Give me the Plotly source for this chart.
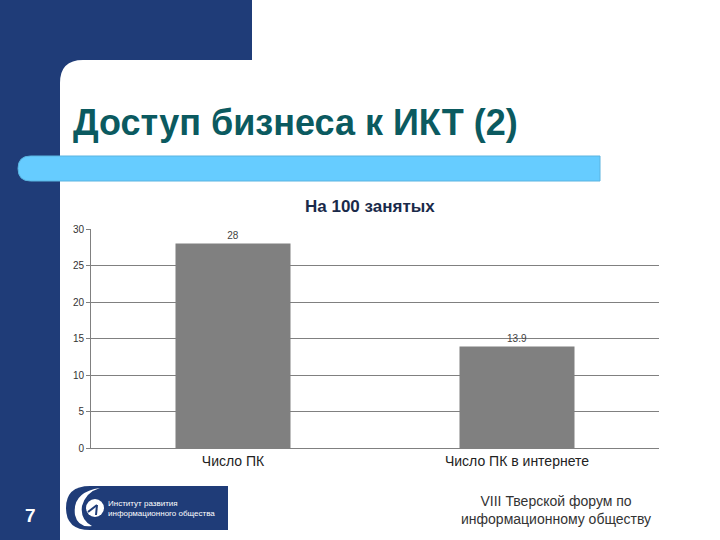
import plotly.graph_objects as go

categories = ["Число ПК", "Число ПК в интернете"]
values = [28, 13.9]
value_labels = ["28", "13.9"]
y_ticks = [0, 5, 10, 15, 20, 25, 30]

slide_title = "Доступ бизнеса к ИКТ (2)"
chart_title = "На 100 занятых"
footer_lines = ["VIII Тверской форум по", "информационному обществу"]
logo_lines = ["Институт развития", "информационного общества"]
page_number = "7"

W, H = 720, 540
L, R, T, B = 91, 659, 229, 448  # plot area in pixels


def px(x):
    return (x - L) / (R - L)


def py(y):
    return (B - y) / (B - T)


DARK = "#1F3C78"
LIGHT = "#66CCFF"
FONT = "Liberation Sans, Arial"

fig = go.Figure()
fig.add_trace(go.Bar(
    x=categories, y=values, width=0.405,
    marker=dict(color="#808080", line=dict(width=0)),
    text=value_labels, textposition="outside", cliponaxis=False,
    textfont=dict(family=FONT, size=10, color="#444444"),
))

shapes = []
# dark blue frame
shapes.append(dict(type="rect", xref="paper", yref="paper", x0=px(0), x1=px(252), y0=py(0), y1=py(60),
                   fillcolor=DARK, line=dict(width=0), layer="below"))
shapes.append(dict(type="rect", xref="paper", yref="paper", x0=px(0), x1=px(60), y0=py(0), y1=py(540),
                   fillcolor=DARK, line=dict(width=0), layer="below"))
# rounded corner
shapes.append(dict(type="path", xref="paper", yref="paper",
                   path=f"M {px(60)},{py(60)} L {px(83)},{py(60)} Q {px(60)},{py(60)} {px(60)},{py(83)} Z",
                   fillcolor=DARK, line=dict(width=0), layer="below"))
# light blue bar with rounded left end
r = 12.5
y0b, y1b = 156, 181
shapes.append(dict(type="path", xref="paper", yref="paper",
                   path=(f"M {px(600)},{py(y0b)} L {px(18 + r)},{py(y0b)} "
                         f"Q {px(18)},{py(y0b)} {px(18)},{py(y0b + r)} "
                         f"Q {px(18)},{py(y1b)} {px(18 + r)},{py(y1b)} "
                         f"L {px(600)},{py(y1b)} Z"),
                   fillcolor=LIGHT, line=dict(width=1, color="#5AB4E0"), layer="below"))
# logo background
shapes.append(dict(type="path", xref="paper", yref="paper",
                   path=(f"M {px(228)},{py(486)} L {px(90)},{py(486)} "
                         f"Q {px(66)},{py(486)} {px(66)},{py(508)} "
                         f"Q {px(66)},{py(530)} {px(90)},{py(530)} "
                         f"L {px(228)},{py(530)} Z"),
                   fillcolor=DARK, line=dict(width=0), layer="below"))
# logo white swoosh
shapes.append(dict(type="path", xref="paper", yref="paper",
                   path=(f"M {px(100)},{py(488)} Q {px(72)},{py(492)} {px(75)},{py(515)} "
                         f"Q {px(78)},{py(528)} {px(92)},{py(526)} "
                         f"Q {px(80)},{py(520)} {px(82)},{py(506)} "
                         f"Q {px(86)},{py(492)} {px(100)},{py(488)} Z"),
                   fillcolor="white", line=dict(width=0), layer="below"))
shapes.append(dict(type="circle", xref="paper", yref="paper",
                   x0=px(86), x1=px(104), y0=py(499), y1=py(517),
                   fillcolor="white", line=dict(width=0), layer="below"))
shapes.append(dict(type="line", xref="paper", yref="paper",
                   x0=px(88), x1=px(97), y0=py(512), y1=py(505),
                   line=dict(width=2, color=DARK)))
shapes.append(dict(type="line", xref="paper", yref="paper",
                   x0=px(97), x1=px(96), y0=py(505), y1=py(515),
                   line=dict(width=2, color=DARK)))

annotations = [
    dict(text=f"<b>{slide_title}</b>", x=px(71), y=py(122), xref="paper", yref="paper",
         xanchor="left", yanchor="middle", showarrow=False,
         font=dict(family=FONT, size=36, color="#0B5A60")),
    dict(text=f"<b>{chart_title}</b>", x=px(370), y=py(206), xref="paper", yref="paper",
         xanchor="center", yanchor="middle", showarrow=False,
         font=dict(family=FONT, size=17, color="#1A2A4A")),
    dict(text=f"<b>{page_number}</b>", x=px(30), y=py(515), xref="paper", yref="paper",
         xanchor="center", yanchor="middle", showarrow=False,
         font=dict(family=FONT, size=19, color="white")),
    dict(text="<br>".join(footer_lines), x=px(556), y=py(510), xref="paper", yref="paper",
         xanchor="center", yanchor="middle", showarrow=False, align="center",
         font=dict(family=FONT, size=14, color="#333333")),
    dict(text="<br>".join(logo_lines), x=px(106), y=py(508), xref="paper", yref="paper",
         xanchor="left", yanchor="middle", showarrow=False, align="left",
         font=dict(family=FONT, size=8, color="white")),
]

fig.update_layout(
    width=W, height=H,
    margin=dict(l=L, r=W - R, t=T, b=H - B, pad=0),
    paper_bgcolor="white", plot_bgcolor="white",
    showlegend=False,
    shapes=shapes, annotations=annotations,
    xaxis=dict(showgrid=False, showline=True, linecolor="#808080", linewidth=1,
               ticks="", tickfont=dict(family=FONT, size=14, color="#222222"),
               fixedrange=True),
    yaxis=dict(range=[0, 30], tickvals=y_ticks, showgrid=True, gridcolor="#808080", gridwidth=1,
               showline=True, linecolor="#808080", linewidth=1, ticks="outside", ticklen=4,
               tickcolor="#808080", zeroline=False,
               tickfont=dict(family=FONT, size=10, color="#333333"),
               fixedrange=True),
)

fig.write_html("out.html", config={"displayModeBar": False},
               post_script="document.body.style.margin='0';")
